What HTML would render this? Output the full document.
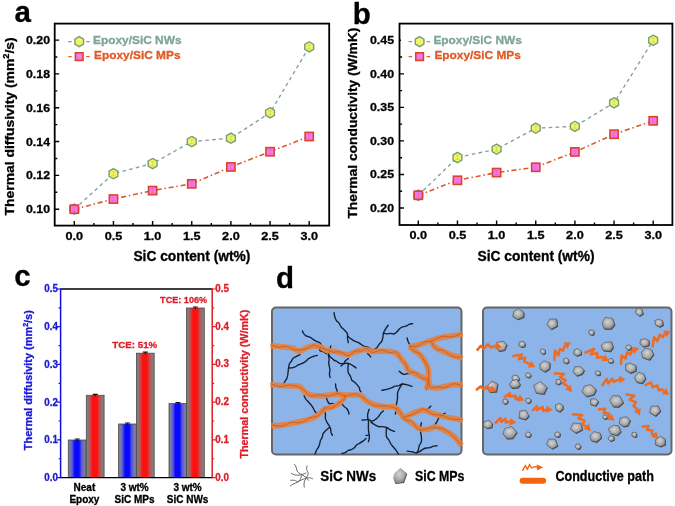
<!DOCTYPE html><html><head><meta charset="utf-8"><style>html,body{margin:0;padding:0;background:#fff;}svg{display:block;filter:blur(0.4px);}</style></head><body><svg width="675" height="506" viewBox="0 0 675 506">
<rect width="675" height="506" fill="#fff"/>
<text x="14.40" y="21.90" font-size="29.5" fill="#000" stroke="#000" stroke-width="0.3" text-anchor="start" font-family="Liberation Sans, sans-serif" font-weight="bold" >a</text>
<text x="352.80" y="23.90" font-size="29.5" fill="#000" stroke="#000" stroke-width="0.3" text-anchor="start" font-family="Liberation Sans, sans-serif" font-weight="bold" >b</text>
<text x="14.20" y="286.00" font-size="29.5" fill="#000" stroke="#000" stroke-width="0.3" text-anchor="start" font-family="Liberation Sans, sans-serif" font-weight="bold" >c</text>
<text x="276.00" y="288.20" font-size="29.5" fill="#000" stroke="#000" stroke-width="0.3" text-anchor="start" font-family="Liberation Sans, sans-serif" font-weight="bold" >d</text>
<polyline points="74.30,209.20 113.45,173.69 152.60,163.54 191.75,141.56 230.90,138.18 270.05,112.81 309.20,46.86" fill="none" stroke="#82A0A4" stroke-width="1.35" stroke-dasharray="3.6,3.3"/>
<polyline points="74.30,209.20 113.45,199.05 152.60,190.60 191.75,183.83 230.90,166.93 270.05,151.71 309.20,136.49" fill="none" stroke="#DC5A2C" stroke-width="1.6" stroke-dasharray="5,2.8,1.5,2.8"/>
<polygon points="74.30,204.10 78.72,206.65 78.72,211.75 74.30,214.30 69.88,211.75 69.88,206.65" fill="#F3F46A" stroke="#74A070" stroke-width="1.4"/>
<path d="M72.50,207.20h3.6 M72.50,211.20h3.6 M74.30,207.20v4" stroke="#b0bc58" stroke-width="0.6" opacity="0.7"/>
<polygon points="113.45,168.59 117.87,171.14 117.87,176.24 113.45,178.79 109.03,176.24 109.03,171.14" fill="#F3F46A" stroke="#74A070" stroke-width="1.4"/>
<path d="M111.65,171.69h3.6 M111.65,175.69h3.6 M113.45,171.69v4" stroke="#b0bc58" stroke-width="0.6" opacity="0.7"/>
<polygon points="152.60,158.44 157.02,160.99 157.02,166.09 152.60,168.64 148.18,166.09 148.18,160.99" fill="#F3F46A" stroke="#74A070" stroke-width="1.4"/>
<path d="M150.80,161.54h3.6 M150.80,165.54h3.6 M152.60,161.54v4" stroke="#b0bc58" stroke-width="0.6" opacity="0.7"/>
<polygon points="191.75,136.46 196.17,139.01 196.17,144.11 191.75,146.66 187.33,144.11 187.33,139.01" fill="#F3F46A" stroke="#74A070" stroke-width="1.4"/>
<path d="M189.95,139.56h3.6 M189.95,143.56h3.6 M191.75,139.56v4" stroke="#b0bc58" stroke-width="0.6" opacity="0.7"/>
<polygon points="230.90,133.08 235.32,135.63 235.32,140.73 230.90,143.28 226.48,140.73 226.48,135.63" fill="#F3F46A" stroke="#74A070" stroke-width="1.4"/>
<path d="M229.10,136.18h3.6 M229.10,140.18h3.6 M230.90,136.18v4" stroke="#b0bc58" stroke-width="0.6" opacity="0.7"/>
<polygon points="270.05,107.71 274.47,110.26 274.47,115.36 270.05,117.91 265.63,115.36 265.63,110.26" fill="#F3F46A" stroke="#74A070" stroke-width="1.4"/>
<path d="M268.25,110.81h3.6 M268.25,114.81h3.6 M270.05,110.81v4" stroke="#b0bc58" stroke-width="0.6" opacity="0.7"/>
<polygon points="309.20,41.76 313.62,44.31 313.62,49.41 309.20,51.96 304.78,49.41 304.78,44.31" fill="#F3F46A" stroke="#74A070" stroke-width="1.4"/>
<path d="M307.40,44.86h3.6 M307.40,48.86h3.6 M309.20,44.86v4" stroke="#b0bc58" stroke-width="0.6" opacity="0.7"/>
<rect x="70.20" y="205.10" width="8.2" height="8.2" fill="#F678EE" stroke="#D9432E" stroke-width="1.6"/>
<path d="M72.50,207.20h3.6 M72.50,211.20h3.6 M74.30,207.20v4" stroke="#d84890" stroke-width="0.6" opacity="0.55"/>
<rect x="109.35" y="194.95" width="8.2" height="8.2" fill="#F678EE" stroke="#D9432E" stroke-width="1.6"/>
<path d="M111.65,197.05h3.6 M111.65,201.05h3.6 M113.45,197.05v4" stroke="#d84890" stroke-width="0.6" opacity="0.55"/>
<rect x="148.50" y="186.50" width="8.2" height="8.2" fill="#F678EE" stroke="#D9432E" stroke-width="1.6"/>
<path d="M150.80,188.60h3.6 M150.80,192.60h3.6 M152.60,188.60v4" stroke="#d84890" stroke-width="0.6" opacity="0.55"/>
<rect x="187.65" y="179.73" width="8.2" height="8.2" fill="#F678EE" stroke="#D9432E" stroke-width="1.6"/>
<path d="M189.95,181.83h3.6 M189.95,185.83h3.6 M191.75,181.83v4" stroke="#d84890" stroke-width="0.6" opacity="0.55"/>
<rect x="226.80" y="162.83" width="8.2" height="8.2" fill="#F678EE" stroke="#D9432E" stroke-width="1.6"/>
<path d="M229.10,164.93h3.6 M229.10,168.93h3.6 M230.90,164.93v4" stroke="#d84890" stroke-width="0.6" opacity="0.55"/>
<rect x="265.95" y="147.61" width="8.2" height="8.2" fill="#F678EE" stroke="#D9432E" stroke-width="1.6"/>
<path d="M268.25,149.71h3.6 M268.25,153.71h3.6 M270.05,149.71v4" stroke="#d84890" stroke-width="0.6" opacity="0.55"/>
<rect x="305.10" y="132.39" width="8.2" height="8.2" fill="#F678EE" stroke="#D9432E" stroke-width="1.6"/>
<path d="M307.40,134.49h3.6 M307.40,138.49h3.6 M309.20,134.49v4" stroke="#d84890" stroke-width="0.6" opacity="0.55"/>
<rect x="54.7" y="23.6" width="274.5" height="202.0" fill="none" stroke="#000" stroke-width="1.8"/>
<path d="M54.7,209.20h4.5 M54.7,175.38h4.5 M54.7,141.56h4.5 M54.7,107.74h4.5 M54.7,73.92h4.5 M54.7,40.10h4.5 M54.7,192.29h2.6 M54.7,158.47h2.6 M54.7,124.65h2.6 M54.7,90.83h2.6 M54.7,57.01h2.6 M74.30,225.6v-4.5 M113.45,225.6v-4.5 M152.60,225.6v-4.5 M191.75,225.6v-4.5 M230.90,225.6v-4.5 M270.05,225.6v-4.5 M309.20,225.6v-4.5 M93.88,225.6v-2.6 M133.02,225.6v-2.6 M172.18,225.6v-2.6 M211.32,225.6v-2.6 M250.47,225.6v-2.6 M289.62,225.6v-2.6" stroke="#000" stroke-width="1.4" fill="none"/>
<text x="50.00" y="213.20" font-size="11.5" fill="#000" stroke="#000" stroke-width="0.3" text-anchor="end" font-family="Liberation Sans, sans-serif" font-weight="bold" textLength="24" lengthAdjust="spacingAndGlyphs" >0.10</text>
<text x="50.00" y="179.38" font-size="11.5" fill="#000" stroke="#000" stroke-width="0.3" text-anchor="end" font-family="Liberation Sans, sans-serif" font-weight="bold" textLength="24" lengthAdjust="spacingAndGlyphs" >0.12</text>
<text x="50.00" y="145.56" font-size="11.5" fill="#000" stroke="#000" stroke-width="0.3" text-anchor="end" font-family="Liberation Sans, sans-serif" font-weight="bold" textLength="24" lengthAdjust="spacingAndGlyphs" >0.14</text>
<text x="50.00" y="111.74" font-size="11.5" fill="#000" stroke="#000" stroke-width="0.3" text-anchor="end" font-family="Liberation Sans, sans-serif" font-weight="bold" textLength="24" lengthAdjust="spacingAndGlyphs" >0.16</text>
<text x="50.00" y="77.92" font-size="11.5" fill="#000" stroke="#000" stroke-width="0.3" text-anchor="end" font-family="Liberation Sans, sans-serif" font-weight="bold" textLength="24" lengthAdjust="spacingAndGlyphs" >0.18</text>
<text x="50.00" y="44.10" font-size="11.5" fill="#000" stroke="#000" stroke-width="0.3" text-anchor="end" font-family="Liberation Sans, sans-serif" font-weight="bold" textLength="24" lengthAdjust="spacingAndGlyphs" >0.20</text>
<text x="74.30" y="240.30" font-size="11.5" fill="#000" stroke="#000" stroke-width="0.3" text-anchor="middle" font-family="Liberation Sans, sans-serif" font-weight="bold" textLength="17.6" lengthAdjust="spacingAndGlyphs" >0.0</text>
<text x="113.45" y="240.30" font-size="11.5" fill="#000" stroke="#000" stroke-width="0.3" text-anchor="middle" font-family="Liberation Sans, sans-serif" font-weight="bold" textLength="17.6" lengthAdjust="spacingAndGlyphs" >0.5</text>
<text x="152.60" y="240.30" font-size="11.5" fill="#000" stroke="#000" stroke-width="0.3" text-anchor="middle" font-family="Liberation Sans, sans-serif" font-weight="bold" textLength="17.6" lengthAdjust="spacingAndGlyphs" >1.0</text>
<text x="191.75" y="240.30" font-size="11.5" fill="#000" stroke="#000" stroke-width="0.3" text-anchor="middle" font-family="Liberation Sans, sans-serif" font-weight="bold" textLength="17.6" lengthAdjust="spacingAndGlyphs" >1.5</text>
<text x="230.90" y="240.30" font-size="11.5" fill="#000" stroke="#000" stroke-width="0.3" text-anchor="middle" font-family="Liberation Sans, sans-serif" font-weight="bold" textLength="17.6" lengthAdjust="spacingAndGlyphs" >2.0</text>
<text x="270.05" y="240.30" font-size="11.5" fill="#000" stroke="#000" stroke-width="0.3" text-anchor="middle" font-family="Liberation Sans, sans-serif" font-weight="bold" textLength="17.6" lengthAdjust="spacingAndGlyphs" >2.5</text>
<text x="309.20" y="240.30" font-size="11.5" fill="#000" stroke="#000" stroke-width="0.3" text-anchor="middle" font-family="Liberation Sans, sans-serif" font-weight="bold" textLength="17.6" lengthAdjust="spacingAndGlyphs" >3.0</text>
<text x="191.90" y="261.30" font-size="13.8" fill="#000" stroke="#000" stroke-width="0.3" text-anchor="middle" font-family="Liberation Sans, sans-serif" font-weight="bold" textLength="117" lengthAdjust="spacingAndGlyphs" >SiC content (wt%)</text>
<text transform="translate(14.0,126.4) rotate(-90)" x="0" y="0" font-size="13.5" fill="#000" stroke="#000" stroke-width="0.3" text-anchor="middle" font-family="Liberation Sans, sans-serif" font-weight="bold" textLength="178" lengthAdjust="spacingAndGlyphs">Thermal diffusivity (mm<tspan font-size="9" dy="-5">2</tspan><tspan dy="5">/s)</tspan></text>
<path d="M68.2,41.6h3.5 M86.2,41.6h3.5" stroke="#7E9A9E" stroke-width="1.3"/>
<polygon points="79.20,36.60 83.53,39.10 83.53,44.10 79.20,46.60 74.87,44.10 74.87,39.10" fill="#F3F46A" stroke="#74A070" stroke-width="1.4"/>
<path d="M68.2,56.6h3.5 M86.2,56.6h3.5" stroke="#E2602C" stroke-width="1.3"/>
<rect x="75.40" y="52.80" width="7.6" height="7.6" fill="#F678EE" stroke="#D9432E" stroke-width="1.6"/>
<text x="93.00" y="44.20" font-size="11" fill="#7FA596" stroke="#7FA596" stroke-width="0.3" text-anchor="start" font-family="Liberation Sans, sans-serif" font-weight="bold" textLength="88.5" lengthAdjust="spacingAndGlyphs" >Epoxy/SiC NWs</text>
<text x="94.00" y="59.20" font-size="11" fill="#E05A28" stroke="#E05A28" stroke-width="0.3" text-anchor="start" font-family="Liberation Sans, sans-serif" font-weight="bold" textLength="86.5" lengthAdjust="spacingAndGlyphs" >Epoxy/SiC MPs</text>
<polyline points="418.30,195.25 457.45,157.49 496.60,149.17 535.75,128.17 574.90,126.36 614.05,102.82 653.20,40.30" fill="none" stroke="#82A0A4" stroke-width="1.35" stroke-dasharray="3.6,3.3"/>
<polyline points="418.30,195.25 457.45,180.30 496.60,172.58 535.75,167.28 574.90,151.92 614.05,134.21 653.20,120.80" fill="none" stroke="#DC5A2C" stroke-width="1.6" stroke-dasharray="5,2.8,1.5,2.8"/>
<polygon points="418.30,190.15 422.72,192.70 422.72,197.80 418.30,200.35 413.88,197.80 413.88,192.70" fill="#F3F46A" stroke="#74A070" stroke-width="1.4"/>
<path d="M416.50,193.25h3.6 M416.50,197.25h3.6 M418.30,193.25v4" stroke="#b0bc58" stroke-width="0.6" opacity="0.7"/>
<polygon points="457.45,152.39 461.87,154.94 461.87,160.04 457.45,162.59 453.03,160.04 453.03,154.94" fill="#F3F46A" stroke="#74A070" stroke-width="1.4"/>
<path d="M455.65,155.49h3.6 M455.65,159.49h3.6 M457.45,155.49v4" stroke="#b0bc58" stroke-width="0.6" opacity="0.7"/>
<polygon points="496.60,144.07 501.02,146.62 501.02,151.72 496.60,154.27 492.18,151.72 492.18,146.62" fill="#F3F46A" stroke="#74A070" stroke-width="1.4"/>
<path d="M494.80,147.17h3.6 M494.80,151.17h3.6 M496.60,147.17v4" stroke="#b0bc58" stroke-width="0.6" opacity="0.7"/>
<polygon points="535.75,123.07 540.17,125.62 540.17,130.72 535.75,133.27 531.33,130.72 531.33,125.62" fill="#F3F46A" stroke="#74A070" stroke-width="1.4"/>
<path d="M533.95,126.17h3.6 M533.95,130.17h3.6 M535.75,126.17v4" stroke="#b0bc58" stroke-width="0.6" opacity="0.7"/>
<polygon points="574.90,121.26 579.32,123.81 579.32,128.91 574.90,131.46 570.48,128.91 570.48,123.81" fill="#F3F46A" stroke="#74A070" stroke-width="1.4"/>
<path d="M573.10,124.36h3.6 M573.10,128.36h3.6 M574.90,124.36v4" stroke="#b0bc58" stroke-width="0.6" opacity="0.7"/>
<polygon points="614.05,97.72 618.47,100.27 618.47,105.37 614.05,107.92 609.63,105.37 609.63,100.27" fill="#F3F46A" stroke="#74A070" stroke-width="1.4"/>
<path d="M612.25,100.82h3.6 M612.25,104.82h3.6 M614.05,100.82v4" stroke="#b0bc58" stroke-width="0.6" opacity="0.7"/>
<polygon points="653.20,35.20 657.62,37.75 657.62,42.85 653.20,45.40 648.78,42.85 648.78,37.75" fill="#F3F46A" stroke="#74A070" stroke-width="1.4"/>
<path d="M651.40,38.30h3.6 M651.40,42.30h3.6 M653.20,38.30v4" stroke="#b0bc58" stroke-width="0.6" opacity="0.7"/>
<rect x="414.20" y="191.15" width="8.2" height="8.2" fill="#F678EE" stroke="#D9432E" stroke-width="1.6"/>
<path d="M416.50,193.25h3.6 M416.50,197.25h3.6 M418.30,193.25v4" stroke="#d84890" stroke-width="0.6" opacity="0.55"/>
<rect x="453.35" y="176.20" width="8.2" height="8.2" fill="#F678EE" stroke="#D9432E" stroke-width="1.6"/>
<path d="M455.65,178.30h3.6 M455.65,182.30h3.6 M457.45,178.30v4" stroke="#d84890" stroke-width="0.6" opacity="0.55"/>
<rect x="492.50" y="168.48" width="8.2" height="8.2" fill="#F678EE" stroke="#D9432E" stroke-width="1.6"/>
<path d="M494.80,170.58h3.6 M494.80,174.58h3.6 M496.60,170.58v4" stroke="#d84890" stroke-width="0.6" opacity="0.55"/>
<rect x="531.65" y="163.18" width="8.2" height="8.2" fill="#F678EE" stroke="#D9432E" stroke-width="1.6"/>
<path d="M533.95,165.28h3.6 M533.95,169.28h3.6 M535.75,165.28v4" stroke="#d84890" stroke-width="0.6" opacity="0.55"/>
<rect x="570.80" y="147.82" width="8.2" height="8.2" fill="#F678EE" stroke="#D9432E" stroke-width="1.6"/>
<path d="M573.10,149.92h3.6 M573.10,153.92h3.6 M574.90,149.92v4" stroke="#d84890" stroke-width="0.6" opacity="0.55"/>
<rect x="609.95" y="130.11" width="8.2" height="8.2" fill="#F678EE" stroke="#D9432E" stroke-width="1.6"/>
<path d="M612.25,132.21h3.6 M612.25,136.21h3.6 M614.05,132.21v4" stroke="#d84890" stroke-width="0.6" opacity="0.55"/>
<rect x="649.10" y="116.70" width="8.2" height="8.2" fill="#F678EE" stroke="#D9432E" stroke-width="1.6"/>
<path d="M651.40,118.80h3.6 M651.40,122.80h3.6 M653.20,118.80v4" stroke="#d84890" stroke-width="0.6" opacity="0.55"/>
<rect x="399.5" y="23.6" width="272.9" height="201.4" fill="none" stroke="#000" stroke-width="1.8"/>
<path d="M399.5,208.00h4.5 M399.5,174.46h4.5 M399.5,140.92h4.5 M399.5,107.38h4.5 M399.5,73.84h4.5 M399.5,40.30h1.5 M399.5,191.23h2.6 M399.5,157.69h2.6 M399.5,124.15h2.6 M399.5,90.61h2.6 M399.5,57.07h2.6 M418.30,225.0v-4.5 M457.45,225.0v-4.5 M496.60,225.0v-4.5 M535.75,225.0v-4.5 M574.90,225.0v-4.5 M614.05,225.0v-4.5 M653.20,225.0v-4.5 M437.88,225.0v-2.6 M477.02,225.0v-2.6 M516.17,225.0v-2.6 M555.33,225.0v-2.6 M594.48,225.0v-2.6 M633.62,225.0v-2.6" stroke="#000" stroke-width="1.4" fill="none"/>
<text x="394.00" y="212.00" font-size="11.5" fill="#000" stroke="#000" stroke-width="0.3" text-anchor="end" font-family="Liberation Sans, sans-serif" font-weight="bold" textLength="24" lengthAdjust="spacingAndGlyphs" >0.20</text>
<text x="394.00" y="178.46" font-size="11.5" fill="#000" stroke="#000" stroke-width="0.3" text-anchor="end" font-family="Liberation Sans, sans-serif" font-weight="bold" textLength="24" lengthAdjust="spacingAndGlyphs" >0.25</text>
<text x="394.00" y="144.92" font-size="11.5" fill="#000" stroke="#000" stroke-width="0.3" text-anchor="end" font-family="Liberation Sans, sans-serif" font-weight="bold" textLength="24" lengthAdjust="spacingAndGlyphs" >0.30</text>
<text x="394.00" y="111.38" font-size="11.5" fill="#000" stroke="#000" stroke-width="0.3" text-anchor="end" font-family="Liberation Sans, sans-serif" font-weight="bold" textLength="24" lengthAdjust="spacingAndGlyphs" >0.35</text>
<text x="394.00" y="77.84" font-size="11.5" fill="#000" stroke="#000" stroke-width="0.3" text-anchor="end" font-family="Liberation Sans, sans-serif" font-weight="bold" textLength="24" lengthAdjust="spacingAndGlyphs" >0.40</text>
<text x="394.00" y="44.30" font-size="11.5" fill="#000" stroke="#000" stroke-width="0.3" text-anchor="end" font-family="Liberation Sans, sans-serif" font-weight="bold" textLength="24" lengthAdjust="spacingAndGlyphs" >0.45</text>
<text x="418.30" y="239.20" font-size="11.5" fill="#000" stroke="#000" stroke-width="0.3" text-anchor="middle" font-family="Liberation Sans, sans-serif" font-weight="bold" textLength="17.6" lengthAdjust="spacingAndGlyphs" >0.0</text>
<text x="457.45" y="239.20" font-size="11.5" fill="#000" stroke="#000" stroke-width="0.3" text-anchor="middle" font-family="Liberation Sans, sans-serif" font-weight="bold" textLength="17.6" lengthAdjust="spacingAndGlyphs" >0.5</text>
<text x="496.60" y="239.20" font-size="11.5" fill="#000" stroke="#000" stroke-width="0.3" text-anchor="middle" font-family="Liberation Sans, sans-serif" font-weight="bold" textLength="17.6" lengthAdjust="spacingAndGlyphs" >1.0</text>
<text x="535.75" y="239.20" font-size="11.5" fill="#000" stroke="#000" stroke-width="0.3" text-anchor="middle" font-family="Liberation Sans, sans-serif" font-weight="bold" textLength="17.6" lengthAdjust="spacingAndGlyphs" >1.5</text>
<text x="574.90" y="239.20" font-size="11.5" fill="#000" stroke="#000" stroke-width="0.3" text-anchor="middle" font-family="Liberation Sans, sans-serif" font-weight="bold" textLength="17.6" lengthAdjust="spacingAndGlyphs" >2.0</text>
<text x="614.05" y="239.20" font-size="11.5" fill="#000" stroke="#000" stroke-width="0.3" text-anchor="middle" font-family="Liberation Sans, sans-serif" font-weight="bold" textLength="17.6" lengthAdjust="spacingAndGlyphs" >2.5</text>
<text x="653.20" y="239.20" font-size="11.5" fill="#000" stroke="#000" stroke-width="0.3" text-anchor="middle" font-family="Liberation Sans, sans-serif" font-weight="bold" textLength="17.6" lengthAdjust="spacingAndGlyphs" >3.0</text>
<text x="536.00" y="260.70" font-size="13.8" fill="#000" stroke="#000" stroke-width="0.3" text-anchor="middle" font-family="Liberation Sans, sans-serif" font-weight="bold" textLength="117" lengthAdjust="spacingAndGlyphs" >SiC content (wt%)</text>
<text transform="translate(356.6,123.1) rotate(-90)" x="0" y="0" font-size="13.5" fill="#000" stroke="#000" stroke-width="0.3" text-anchor="middle" font-family="Liberation Sans, sans-serif" font-weight="bold" textLength="191" lengthAdjust="spacingAndGlyphs">Thermal conductivity (W/mK)</text>
<path d="M408.6,41.6h3.5 M426.6,41.6h3.5" stroke="#7E9A9E" stroke-width="1.3"/>
<polygon points="419.60,36.60 423.93,39.10 423.93,44.10 419.60,46.60 415.27,44.10 415.27,39.10" fill="#F3F46A" stroke="#74A070" stroke-width="1.4"/>
<path d="M408.6,56.6h3.5 M426.6,56.6h3.5" stroke="#E2602C" stroke-width="1.3"/>
<rect x="415.80" y="52.80" width="7.6" height="7.6" fill="#F678EE" stroke="#D9432E" stroke-width="1.6"/>
<text x="433.40" y="44.20" font-size="11" fill="#7FA596" stroke="#7FA596" stroke-width="0.3" text-anchor="start" font-family="Liberation Sans, sans-serif" font-weight="bold" textLength="88.5" lengthAdjust="spacingAndGlyphs" >Epoxy/SiC NWs</text>
<text x="434.40" y="59.20" font-size="11" fill="#E05A28" stroke="#E05A28" stroke-width="0.3" text-anchor="start" font-family="Liberation Sans, sans-serif" font-weight="bold" textLength="86.5" lengthAdjust="spacingAndGlyphs" >Epoxy/SiC MPs</text>
<defs><linearGradient id="gb" x1="0" x2="1" y1="0" y2="0"><stop offset="0" stop-color="#7a7a86"/><stop offset="0.1" stop-color="#7a7aa6"/><stop offset="0.22" stop-color="#5656e0"/><stop offset="0.36" stop-color="#0808ff"/><stop offset="0.6" stop-color="#0808ff"/><stop offset="0.74" stop-color="#5656e0"/><stop offset="0.88" stop-color="#7a7aa6"/><stop offset="1" stop-color="#7a7a86"/></linearGradient><linearGradient id="gr" x1="0" x2="1" y1="0" y2="0"><stop offset="0" stop-color="#868080"/><stop offset="0.1" stop-color="#8c7676"/><stop offset="0.22" stop-color="#c05050"/><stop offset="0.35" stop-color="#ff1010"/><stop offset="0.6" stop-color="#ff1010"/><stop offset="0.74" stop-color="#c05050"/><stop offset="0.88" stop-color="#8c7676"/><stop offset="1" stop-color="#868080"/></linearGradient></defs>
<rect x="68.3" y="440.0" width="17.8" height="37.60000000000002" fill="url(#gb)" stroke="#4a4a4a" stroke-width="0.8"/>
<rect x="86.3" y="395.3" width="17.8" height="82.30000000000001" fill="url(#gr)" stroke="#4a4a4a" stroke-width="0.8"/>
<path d="M74.70,439.00h5 M77.20,439.00v2" stroke="#111" stroke-width="1.2"/>
<path d="M92.70,394.30h5 M95.20,394.30v2" stroke="#111" stroke-width="1.2"/>
<rect x="118.6" y="424.0" width="17.8" height="53.60000000000002" fill="url(#gb)" stroke="#4a4a4a" stroke-width="0.8"/>
<rect x="136.4" y="353.2" width="17.8" height="124.40000000000003" fill="url(#gr)" stroke="#4a4a4a" stroke-width="0.8"/>
<path d="M125.00,423.00h5 M127.50,423.00v2" stroke="#111" stroke-width="1.2"/>
<path d="M142.80,352.20h5 M145.30,352.20v2" stroke="#111" stroke-width="1.2"/>
<rect x="169.0" y="403.6" width="17.8" height="74.0" fill="url(#gb)" stroke="#4a4a4a" stroke-width="0.8"/>
<rect x="186.5" y="308.0" width="17.8" height="169.60000000000002" fill="url(#gr)" stroke="#4a4a4a" stroke-width="0.8"/>
<path d="M175.40,402.60h5 M177.90,402.60v2" stroke="#111" stroke-width="1.2"/>
<path d="M192.90,307.00h5 M195.40,307.00v2" stroke="#111" stroke-width="1.2"/>
<path d="M60.6,289.0H212.2 M60.0,477.6H212.79999999999998" stroke="#000" stroke-width="1.4"/>
<path d="M60.6,288.3V477.6" stroke="#1010E0" stroke-width="1.5"/>
<path d="M212.2,288.3V477.6" stroke="#DE1E28" stroke-width="1.5"/>
<path d="M60.6,477.60h-3.5 M60.6,439.88h-3.5 M60.6,402.16h-3.5 M60.6,364.44h-3.5 M60.6,326.72h-3.5 M60.6,289.00h-3.5 M60.6,458.74h-2 M60.6,421.02h-2 M60.6,383.30h-2 M60.6,345.58h-2 M60.6,307.86h-2" stroke="#1010E0" stroke-width="1.2"/>
<path d="M212.2,477.60h3.5 M212.2,439.88h3.5 M212.2,402.16h3.5 M212.2,364.44h3.5 M212.2,326.72h3.5 M212.2,289.00h3.5 M212.2,458.74h2 M212.2,421.02h2 M212.2,383.30h2 M212.2,345.58h2 M212.2,307.86h2" stroke="#DE1E28" stroke-width="1.2"/>
<text x="57.90" y="481.00" font-size="10" fill="#1c1cd4" stroke="#1c1cd4" stroke-width="0.3" text-anchor="end" font-family="Liberation Sans, sans-serif" font-weight="bold" textLength="13.6" lengthAdjust="spacingAndGlyphs" >0.0</text>
<text x="215.30" y="480.60" font-size="10" fill="#de1e28" stroke="#de1e28" stroke-width="0.3" text-anchor="start" font-family="Liberation Sans, sans-serif" font-weight="bold" textLength="13.6" lengthAdjust="spacingAndGlyphs" >0.0</text>
<text x="57.90" y="443.28" font-size="10" fill="#1c1cd4" stroke="#1c1cd4" stroke-width="0.3" text-anchor="end" font-family="Liberation Sans, sans-serif" font-weight="bold" textLength="13.6" lengthAdjust="spacingAndGlyphs" >0.1</text>
<text x="215.30" y="442.88" font-size="10" fill="#de1e28" stroke="#de1e28" stroke-width="0.3" text-anchor="start" font-family="Liberation Sans, sans-serif" font-weight="bold" textLength="13.6" lengthAdjust="spacingAndGlyphs" >0.1</text>
<text x="57.90" y="405.56" font-size="10" fill="#1c1cd4" stroke="#1c1cd4" stroke-width="0.3" text-anchor="end" font-family="Liberation Sans, sans-serif" font-weight="bold" textLength="13.6" lengthAdjust="spacingAndGlyphs" >0.2</text>
<text x="215.30" y="405.16" font-size="10" fill="#de1e28" stroke="#de1e28" stroke-width="0.3" text-anchor="start" font-family="Liberation Sans, sans-serif" font-weight="bold" textLength="13.6" lengthAdjust="spacingAndGlyphs" >0.2</text>
<text x="57.90" y="367.84" font-size="10" fill="#1c1cd4" stroke="#1c1cd4" stroke-width="0.3" text-anchor="end" font-family="Liberation Sans, sans-serif" font-weight="bold" textLength="13.6" lengthAdjust="spacingAndGlyphs" >0.3</text>
<text x="215.30" y="367.44" font-size="10" fill="#de1e28" stroke="#de1e28" stroke-width="0.3" text-anchor="start" font-family="Liberation Sans, sans-serif" font-weight="bold" textLength="13.6" lengthAdjust="spacingAndGlyphs" >0.3</text>
<text x="57.90" y="330.12" font-size="10" fill="#1c1cd4" stroke="#1c1cd4" stroke-width="0.3" text-anchor="end" font-family="Liberation Sans, sans-serif" font-weight="bold" textLength="13.6" lengthAdjust="spacingAndGlyphs" >0.4</text>
<text x="215.30" y="329.72" font-size="10" fill="#de1e28" stroke="#de1e28" stroke-width="0.3" text-anchor="start" font-family="Liberation Sans, sans-serif" font-weight="bold" textLength="13.6" lengthAdjust="spacingAndGlyphs" >0.4</text>
<text x="57.90" y="292.40" font-size="10" fill="#1c1cd4" stroke="#1c1cd4" stroke-width="0.3" text-anchor="end" font-family="Liberation Sans, sans-serif" font-weight="bold" textLength="13.6" lengthAdjust="spacingAndGlyphs" >0.5</text>
<text x="215.30" y="292.00" font-size="10" fill="#de1e28" stroke="#de1e28" stroke-width="0.3" text-anchor="start" font-family="Liberation Sans, sans-serif" font-weight="bold" textLength="13.6" lengthAdjust="spacingAndGlyphs" >0.5</text>
<text transform="translate(31.5,380.2) rotate(-90)" font-size="11.7" fill="#1a1ad8" stroke="#1a1ad8" stroke-width="0.3" text-anchor="middle" font-family="Liberation Sans, sans-serif" font-weight="bold" textLength="140" lengthAdjust="spacingAndGlyphs">Thermal diffusivity (mm<tspan font-size="7.5" dy="-4">2</tspan><tspan dy="4">/s)</tspan></text>
<text transform="translate(247.9,384.1) rotate(-90)" font-size="11.5" fill="#de1e28" stroke="#de1e28" stroke-width="0.3" text-anchor="middle" font-family="Liberation Sans, sans-serif" font-weight="bold" textLength="149" lengthAdjust="spacingAndGlyphs">Thermal conductivity (W/mK)</text>
<text x="183.60" y="302.60" font-size="9.8" fill="#de1e28" stroke="#de1e28" stroke-width="0.3" text-anchor="middle" font-family="Liberation Sans, sans-serif" font-weight="bold" textLength="47" lengthAdjust="spacingAndGlyphs" >TCE: 106%</text>
<text x="134.80" y="347.50" font-size="9.8" fill="#de1e28" stroke="#de1e28" stroke-width="0.3" text-anchor="middle" font-family="Liberation Sans, sans-serif" font-weight="bold" textLength="45" lengthAdjust="spacingAndGlyphs" >TCE: 51%</text>
<text x="84.40" y="490.60" font-size="10" fill="#000" stroke="#000" stroke-width="0.3" text-anchor="middle" font-family="Liberation Sans, sans-serif" font-weight="bold" >Neat</text>
<text x="84.40" y="503.00" font-size="10" fill="#000" stroke="#000" stroke-width="0.3" text-anchor="middle" font-family="Liberation Sans, sans-serif" font-weight="bold" >Epoxy</text>
<text x="134.60" y="490.60" font-size="10" fill="#000" stroke="#000" stroke-width="0.3" text-anchor="middle" font-family="Liberation Sans, sans-serif" font-weight="bold" >3 wt%</text>
<text x="134.60" y="503.00" font-size="10" fill="#000" stroke="#000" stroke-width="0.3" text-anchor="middle" font-family="Liberation Sans, sans-serif" font-weight="bold" >SiC MPs</text>
<text x="187.60" y="490.60" font-size="10" fill="#000" stroke="#000" stroke-width="0.3" text-anchor="middle" font-family="Liberation Sans, sans-serif" font-weight="bold" >3 wt%</text>
<text x="187.60" y="503.00" font-size="10" fill="#000" stroke="#000" stroke-width="0.3" text-anchor="middle" font-family="Liberation Sans, sans-serif" font-weight="bold" >SiC NWs</text>
<defs><radialGradient id="pg" cx="0.45" cy="0.4" r="0.65"><stop offset="0" stop-color="#d4d4d6"/><stop offset="0.55" stop-color="#ababae"/><stop offset="1" stop-color="#767678"/></radialGradient><clipPath id="cl"><rect x="272" y="307.5" width="189.5" height="147" rx="4"/></clipPath><clipPath id="cr"><rect x="483" y="307.5" width="188.5" height="147" rx="4"/></clipPath></defs>
<rect x="272" y="307.5" width="189.5" height="147" rx="4" fill="#8CB4E8"/>
<rect x="483" y="307.5" width="188.5" height="147" rx="4" fill="#8CB4E8"/>
<rect x="272" y="307.5" width="189.5" height="147" rx="4" fill="none" stroke="#666666" stroke-width="2"/>
<rect x="483" y="307.5" width="188.5" height="147" rx="4" fill="none" stroke="#666666" stroke-width="2"/>
<g clip-path="url(#cl)">
<path d="M334.0,312.7 C334.1,313.4 334.4,315.5 334.8,316.8 C335.2,318.1 335.7,319.5 336.4,320.6 C337.1,321.7 338.3,322.2 339.1,323.2 C339.8,324.2 340.1,325.6 340.9,326.6 C341.6,327.6 342.7,328.5 343.5,329.3 C344.3,330.1 345.1,330.7 345.7,331.5 C346.4,332.2 347.2,332.8 347.5,334.0 C347.8,335.2 347.4,336.9 347.5,338.4 C347.7,339.8 348.2,342.0 348.3,342.7" fill="none" stroke="#131E33" stroke-width="1.35" stroke-linecap="round"/>
<path d="M347.5,336.0 C348.1,336.5 349.7,337.9 350.9,338.8 C352.1,339.6 353.4,340.5 354.6,341.1 C355.8,341.7 356.9,341.8 358.0,342.3 C359.1,342.8 360.1,343.7 361.0,344.3 C361.9,344.9 362.5,345.5 363.3,345.9 C364.2,346.3 365.1,346.4 366.0,346.7 C366.9,347.0 367.8,347.2 368.6,347.6 C369.5,348.0 370.6,348.8 371.0,349.0" fill="none" stroke="#131E33" stroke-width="1.35" stroke-linecap="round"/>
<path d="M302.4,330.9 C302.6,331.3 303.1,332.7 303.6,333.5 C304.1,334.3 304.6,335.0 305.6,335.6 C306.6,336.2 308.4,336.5 309.8,337.2 C311.1,337.8 312.4,338.9 313.5,339.6 C314.6,340.3 315.5,340.9 316.5,341.4 C317.6,341.9 319.1,342.2 319.8,342.7 C320.5,343.2 320.6,343.7 320.8,344.2 C321.1,344.7 321.5,345.2 321.4,345.9 C321.3,346.6 320.4,347.3 320.2,348.1 C319.9,348.9 319.2,350.0 319.8,350.6 C320.4,351.2 322.3,351.3 323.5,351.8 C324.7,352.4 326.3,353.5 326.9,353.8" fill="none" stroke="#131E33" stroke-width="1.35" stroke-linecap="round"/>
<path d="M330.9,345.9 C330.7,346.7 329.8,349.0 329.4,350.6 C329.0,352.2 328.5,354.0 328.5,355.4 C328.5,356.8 329.1,357.8 329.1,359.1 C329.2,360.3 328.7,361.6 328.7,362.8 C328.7,364.1 329.1,365.3 329.3,366.5 C329.5,367.7 329.9,368.9 330.0,370.1 C330.0,371.4 329.4,372.6 329.4,373.9 C329.5,375.1 330.0,376.9 330.1,377.5" fill="none" stroke="#131E33" stroke-width="1.35" stroke-linecap="round"/>
<path d="M328.5,354.6 C328.9,355.1 330.1,356.6 331.0,357.6 C332.0,358.5 333.0,359.4 334.0,360.1 C335.0,360.8 336.0,360.9 336.9,361.5 C337.9,362.0 338.4,362.9 339.6,363.3 C340.8,363.7 342.5,363.6 344.0,363.6 C345.4,363.6 346.9,363.0 348.3,363.3 C349.7,363.6 351.1,364.6 352.4,365.4 C353.7,366.2 355.6,367.6 356.2,368.0" fill="none" stroke="#131E33" stroke-width="1.35" stroke-linecap="round"/>
<path d="M348.3,364.1 C348.2,364.8 347.9,367.0 347.9,368.5 C347.9,369.9 347.9,371.6 348.3,372.8 C348.7,374.0 349.7,374.7 350.2,375.8 C350.7,376.8 351.1,378.3 351.4,379.1 C351.7,379.9 351.6,380.0 351.9,380.3 C352.1,380.6 352.2,380.4 353.0,381.0 C353.8,381.6 355.5,383.0 356.5,384.1 C357.6,385.3 358.9,386.9 359.4,387.9 C359.9,388.9 359.5,389.4 359.8,390.1 C360.1,390.7 360.8,391.6 361.0,391.9" fill="none" stroke="#131E33" stroke-width="1.35" stroke-linecap="round"/>
<path d="M317.4,355.4 C316.7,355.6 314.4,356.0 312.9,356.5 C311.5,357.1 309.9,357.7 308.7,358.5 C307.5,359.3 306.9,360.4 305.8,361.2 C304.8,362.0 303.7,362.7 302.4,363.3 C301.1,363.9 299.6,364.3 298.3,364.9 C297.0,365.6 295.6,366.7 294.5,367.2 C293.4,367.7 292.7,367.8 291.7,367.9 C290.8,368.0 289.4,368.0 288.9,368.0" fill="none" stroke="#131E33" stroke-width="1.35" stroke-linecap="round"/>
<path d="M300.0,354.6 C299.4,354.9 297.5,355.6 296.3,356.3 C295.1,356.9 293.7,357.7 292.9,358.5 C292.1,359.3 292.1,360.3 291.5,361.1 C291.0,361.9 290.2,362.3 289.7,363.3 C289.2,364.3 288.8,365.9 288.6,367.2 C288.3,368.5 288.4,369.9 288.2,371.2 C288.0,372.5 287.9,373.9 287.7,375.2 C287.4,376.5 287.0,378.3 286.6,379.1 C286.2,379.9 285.8,379.7 285.5,380.2 C285.2,380.6 285.4,380.9 285.0,381.6 C284.6,382.3 283.6,383.6 282.8,384.6 C282.0,385.5 280.6,386.7 280.2,387.1" fill="none" stroke="#131E33" stroke-width="1.35" stroke-linecap="round"/>
<path d="M341.0,366.0 C341.4,365.6 342.9,364.6 343.6,363.7 C344.4,362.8 344.8,361.5 345.5,360.7 C346.3,359.8 347.8,358.9 348.3,358.5" fill="none" stroke="#131E33" stroke-width="1.35" stroke-linecap="round"/>
<path d="M388.2,325.3 C387.7,325.9 386.3,327.8 385.5,329.1 C384.7,330.4 383.8,331.8 383.4,333.2 C383.0,334.6 383.2,335.9 382.9,337.2 C382.7,338.5 382.4,339.9 381.8,341.1 C381.2,342.3 380.0,343.1 379.2,344.1 C378.4,345.2 377.8,346.7 377.1,347.5 C376.4,348.3 375.6,348.7 374.7,349.2 C373.9,349.6 372.5,349.9 372.0,350.0" fill="none" stroke="#131E33" stroke-width="1.35" stroke-linecap="round"/>
<path d="M383.4,333.2 C384.0,333.3 385.7,333.8 386.8,333.8 C388.0,333.9 389.1,333.4 390.3,333.4 C391.4,333.4 392.6,334.2 393.7,334.0 C394.8,333.8 395.9,332.8 396.8,331.9 C397.8,331.1 398.4,329.9 399.3,329.0 C400.2,328.2 401.3,327.4 402.4,326.9 C403.5,326.4 404.8,326.7 406.0,326.2 C407.1,325.8 408.0,324.8 409.1,324.3 C410.3,323.9 412.1,323.8 412.7,323.7" fill="none" stroke="#131E33" stroke-width="1.35" stroke-linecap="round"/>
<path d="M407.1,338.0 C407.2,338.5 407.6,340.2 408.0,341.3 C408.4,342.3 409.2,343.8 409.5,344.3" fill="none" stroke="#131E33" stroke-width="1.35" stroke-linecap="round"/>
<path d="M399.2,371.2 C399.6,371.5 400.6,372.6 401.4,373.1 C402.2,373.6 403.1,374.3 404.0,374.4 C404.9,374.5 406.0,373.7 407.1,373.6 C408.1,373.5 409.8,373.6 410.3,373.6" fill="none" stroke="#131E33" stroke-width="1.35" stroke-linecap="round"/>
<path d="M370.7,357.0 C370.5,356.7 369.9,355.7 369.4,355.2 C368.9,354.7 367.9,354.0 367.6,353.8" fill="none" stroke="#131E33" stroke-width="1.35" stroke-linecap="round"/>
<path d="M335.6,384.0 C335.6,384.6 335.6,386.3 335.9,387.4 C336.1,388.6 336.8,389.6 337.1,390.7 C337.3,391.9 337.2,393.6 337.2,394.2" fill="none" stroke="#131E33" stroke-width="1.35" stroke-linecap="round"/>
<path d="M304.0,395.8 C304.3,396.4 305.2,398.2 306.0,399.3 C306.8,400.3 307.8,401.2 308.7,402.2 C309.6,403.2 310.5,404.2 311.3,405.2 C312.1,406.3 312.9,407.5 313.5,408.5 C314.1,409.5 314.2,410.3 314.7,411.1 C315.2,411.9 316.3,412.8 316.6,413.2" fill="none" stroke="#131E33" stroke-width="1.35" stroke-linecap="round"/>
<path d="M326.1,397.4 C326.3,397.9 326.9,399.6 327.4,400.7 C327.9,401.7 328.6,403.3 329.3,403.7 C330.0,404.1 330.9,403.3 331.6,403.3 C332.4,403.3 333.6,403.6 334.0,403.7" fill="none" stroke="#131E33" stroke-width="1.35" stroke-linecap="round"/>
<path d="M324.5,406.9 C324.5,407.5 324.2,409.4 324.4,410.6 C324.6,411.9 325.3,413.0 325.5,414.3 C325.6,415.5 325.1,416.7 325.3,418.0 C325.5,419.3 326.2,420.8 326.9,422.2 C327.5,423.5 328.7,424.8 329.3,425.9 C329.9,427.0 330.4,427.9 330.7,429.0 C330.9,430.0 330.7,431.3 331.0,432.4 C331.3,433.4 332.3,434.9 332.5,435.4" fill="none" stroke="#131E33" stroke-width="1.35" stroke-linecap="round"/>
<path d="M329.3,427.5 C328.7,428.0 327.0,429.4 325.9,430.4 C324.9,431.5 323.6,432.7 323.0,433.8 C322.4,434.9 322.7,436.1 322.3,437.1 C321.9,438.1 321.0,439.0 320.6,440.0 C320.1,441.1 320.1,442.1 319.8,443.3 C319.5,444.5 319.1,445.9 318.5,447.1 C317.9,448.3 316.8,449.3 316.3,450.6 C315.7,451.8 315.2,453.8 315.0,454.4" fill="none" stroke="#131E33" stroke-width="1.35" stroke-linecap="round"/>
<path d="M342.0,403.7 C342.3,404.1 343.3,405.6 344.1,406.4 C344.8,407.2 346.0,407.7 346.7,408.5 C347.4,409.3 347.9,410.2 348.2,411.1 C348.6,412.0 348.9,413.5 349.0,414.0" fill="none" stroke="#131E33" stroke-width="1.35" stroke-linecap="round"/>
<path d="M342.0,453.5 C342.6,453.4 344.3,453.1 345.3,452.6 C346.3,452.1 347.1,451.0 348.1,450.5 C349.1,450.0 350.4,450.0 351.4,449.6 C352.4,449.2 353.5,448.6 354.3,447.8 C355.2,447.1 355.6,445.8 356.5,445.0 C357.3,444.3 358.3,443.9 359.4,443.3 C360.5,442.7 361.8,441.9 362.9,441.1 C364.0,440.3 365.5,438.9 366.0,438.5" fill="none" stroke="#131E33" stroke-width="1.35" stroke-linecap="round"/>
<path d="M381.8,390.3 C382.6,390.1 385.0,389.8 386.6,389.4 C388.2,389.0 389.9,388.4 391.3,387.9 C392.7,387.4 393.6,386.6 394.9,386.2 C396.1,385.8 397.6,386.0 398.8,385.7 C400.1,385.3 401.0,384.1 402.4,384.0 C403.8,383.9 405.7,384.4 407.2,384.8 C408.8,385.2 411.1,386.1 411.9,386.3" fill="none" stroke="#131E33" stroke-width="1.35" stroke-linecap="round"/>
<path d="M402.4,384.0 C401.9,384.7 400.4,386.7 399.6,388.1 C398.8,389.6 397.9,391.1 397.6,392.7 C397.3,394.3 397.6,395.9 397.5,397.5 C397.4,399.1 397.1,400.8 396.9,402.2 C396.7,403.6 396.2,404.8 396.1,406.1 C396.0,407.4 396.4,408.8 396.3,410.1 C396.2,411.4 395.5,413.4 395.3,414.0" fill="none" stroke="#131E33" stroke-width="1.35" stroke-linecap="round"/>
<path d="M383.4,410.9 C382.9,411.3 381.5,412.4 380.7,413.3 C379.9,414.3 379.5,415.4 378.7,416.4 C377.9,417.4 376.8,418.3 375.8,419.1 C374.7,419.9 373.4,421.0 372.3,421.1 C371.2,421.2 370.3,420.2 369.3,419.9 C368.2,419.7 366.9,419.6 366.0,419.6 C365.1,419.6 364.7,420.0 364.0,420.1 C363.4,420.1 362.3,420.0 362.0,420.0" fill="none" stroke="#131E33" stroke-width="1.35" stroke-linecap="round"/>
<path d="M369.2,409.3 C369.0,409.9 368.3,411.6 368.0,412.8 C367.7,413.9 367.5,415.0 367.6,416.4 C367.7,417.8 368.3,419.5 368.4,421.1 C368.6,422.7 368.4,424.3 368.4,425.9 C368.4,427.5 368.4,429.1 368.5,430.7 C368.7,432.3 369.1,434.1 369.2,435.4 C369.3,436.7 369.4,437.6 369.3,438.6 C369.1,439.7 368.5,441.2 368.4,441.7" fill="none" stroke="#131E33" stroke-width="1.35" stroke-linecap="round"/>
<path d="M370.7,421.9 C371.3,422.3 373.2,423.8 374.5,424.6 C375.9,425.4 377.3,426.4 378.7,426.7 C380.1,427.0 381.4,426.5 382.7,426.6 C384.0,426.8 385.3,427.0 386.6,427.5 C387.9,428.0 389.0,429.2 390.4,429.8 C391.7,430.5 393.8,431.1 394.5,431.4" fill="none" stroke="#131E33" stroke-width="1.35" stroke-linecap="round"/>
<path d="M386.6,427.5 C386.5,428.3 386.2,430.7 386.2,432.2 C386.2,433.8 386.1,435.7 386.6,437.0 C387.1,438.3 388.3,438.9 388.9,440.0 C389.6,441.1 389.9,442.4 390.6,443.5 C391.2,444.6 392.0,445.4 392.9,446.5 C393.8,447.6 395.1,448.9 396.0,450.2 C396.9,451.5 398.1,453.7 398.5,454.4" fill="none" stroke="#131E33" stroke-width="1.35" stroke-linecap="round"/>
<path d="M421.4,422.7 C421.3,423.5 420.7,425.8 420.6,427.4 C420.5,429.0 420.5,430.6 420.6,432.2 C420.7,433.8 421.3,435.3 421.4,436.9 C421.5,438.5 421.7,440.3 421.4,441.7 C421.1,443.1 419.9,444.0 419.4,445.2 C418.9,446.5 418.9,447.9 418.5,449.2 C418.0,450.5 417.7,452.4 416.6,452.8 C415.5,453.2 413.5,452.0 411.9,451.7 C410.3,451.5 407.9,451.3 407.1,451.2" fill="none" stroke="#131E33" stroke-width="1.35" stroke-linecap="round"/>
<path d="M416.6,452.8 C417.1,452.6 418.9,452.0 419.9,451.4 C420.9,450.9 421.8,449.9 422.8,449.4 C423.8,448.8 424.9,448.3 426.1,448.0 C427.3,447.7 428.7,447.9 429.9,447.6 C431.1,447.3 432.2,446.5 433.4,446.2 C434.7,445.9 436.6,445.8 437.2,445.7" fill="none" stroke="#131E33" stroke-width="1.35" stroke-linecap="round"/>
<path d="M426.1,410.0 C426.5,409.7 427.9,409.0 428.7,408.3 C429.5,407.7 430.5,406.5 430.9,406.1" fill="none" stroke="#131E33" stroke-width="1.35" stroke-linecap="round"/>
<path d="M434.0,425.9 C434.5,425.3 435.9,423.5 436.7,422.1 C437.5,420.8 438.0,419.1 438.8,418.0 C439.6,416.9 440.7,416.2 441.8,415.4 C442.8,414.6 444.5,413.6 445.1,413.2" fill="none" stroke="#131E33" stroke-width="1.35" stroke-linecap="round"/>
<path d="M366.0,435.4 C366.3,435.4 367.0,435.5 367.5,435.4 C368.0,435.4 368.8,435.1 369.0,435.0" fill="none" stroke="#131E33" stroke-width="1.35" stroke-linecap="round"/>
</g>
<path d="M270.5,345.9 C271.9,345.9 276.0,346.0 278.7,346.2 C281.4,346.4 284.2,346.8 286.6,347.2 C289.0,347.6 290.8,347.7 292.9,348.3 C295.0,348.9 296.8,351.1 299.2,351.0 C301.6,350.9 304.7,348.4 307.1,347.5 C309.5,346.6 311.4,346.0 313.5,345.9 C315.6,345.8 317.7,346.0 319.8,346.7 C321.9,347.4 324.0,349.6 326.1,350.3 C328.2,351.0 330.1,350.6 332.5,351.0 C334.9,351.4 337.8,352.4 340.4,353.0 C343.0,353.6 345.9,354.7 348.3,354.6 C350.7,354.5 352.2,353.0 354.6,352.2 C357.0,351.4 360.6,350.3 362.5,349.8 C364.4,349.3 364.4,349.1 366.0,349.4 C367.6,349.7 369.7,351.1 372.3,351.4 C374.9,351.7 378.9,351.0 381.8,351.0 C384.8,351.0 387.6,351.2 390.0,351.6 C392.4,352.0 394.3,351.9 396.3,353.2 C398.3,354.5 400.3,357.5 401.9,359.5 C403.5,361.5 404.6,363.2 405.8,365.1 C407.0,367.0 407.4,369.2 409.0,370.6 C410.6,372.1 413.2,372.8 415.3,373.8 C417.4,374.9 419.5,375.7 421.6,376.9 C423.7,378.1 426.6,379.3 428.0,380.9 C429.4,382.5 428.7,385.2 430.3,386.4 C431.9,387.6 434.9,388.0 437.4,388.0 C439.9,388.0 442.7,386.9 445.3,386.4 C447.9,385.9 450.3,385.1 453.2,384.8 C456.1,384.5 460.9,384.8 462.5,384.8" fill="none" stroke="#E5813E" stroke-width="5.6" stroke-linecap="butt" stroke-linejoin="round" opacity="0.93"/>
<path d="M409.0,346.9 C410.3,346.6 414.3,346.0 416.9,345.3 C419.5,344.6 422.2,343.8 424.8,342.9 C427.4,342.0 429.8,340.7 432.7,339.8 C435.6,338.9 439.0,338.1 442.2,337.4 C445.4,336.7 448.3,336.3 451.7,335.8 C455.1,335.3 460.7,334.5 462.5,334.2" fill="none" stroke="#E5813E" stroke-width="5.6" stroke-linecap="butt" stroke-linejoin="round" opacity="0.93"/>
<path d="M431.1,342.1 C431.9,343.0 433.7,346.1 435.8,347.7 C437.9,349.3 440.9,350.3 443.8,351.6 C446.7,352.9 450.1,354.6 453.2,355.6 C456.3,356.7 460.9,357.5 462.5,357.9" fill="none" stroke="#E5813E" stroke-width="5.6" stroke-linecap="butt" stroke-linejoin="round" opacity="0.93"/>
<path d="M409.0,346.9 C409.8,347.4 411.9,348.7 413.7,350.0 C415.5,351.3 418.1,352.9 420.0,354.8 C421.9,356.7 423.5,358.7 424.8,361.1 C426.1,363.5 427.4,366.4 428.0,369.0 C428.6,371.6 428.7,374.5 428.7,376.9 C428.7,379.3 428.4,381.1 428.0,383.2 C427.6,385.3 426.7,388.5 426.4,389.6" fill="none" stroke="#E5813E" stroke-width="5.6" stroke-linecap="butt" stroke-linejoin="round" opacity="0.93"/>
<path d="M270.5,384.7 C272.1,384.8 277.0,385.3 280.2,385.5 C283.4,385.7 286.5,385.9 289.7,386.0 C292.9,386.1 296.8,385.5 299.2,386.3 C301.6,387.1 302.1,389.6 304.0,391.0 C305.9,392.4 307.7,394.2 310.3,395.0 C312.9,395.8 316.6,395.8 319.8,395.8 C323.0,395.8 326.4,395.3 329.3,395.0 C332.2,394.7 334.6,394.2 337.2,394.2 C339.8,394.2 342.2,394.9 345.1,395.0 C348.0,395.1 352.0,394.9 354.6,395.0 C357.2,395.1 359.1,394.6 361.0,395.5 C362.9,396.4 363.9,399.1 366.0,400.6 C368.1,402.1 370.7,403.4 373.9,404.5 C377.1,405.6 381.6,406.5 385.0,406.9 C388.4,407.3 392.1,406.1 394.5,406.9 C396.9,407.7 397.6,409.8 399.2,411.6 C400.8,413.5 401.9,416.1 404.0,418.0 C406.1,419.9 409.3,420.9 411.9,422.7 C414.5,424.5 416.9,427.9 419.8,429.0 C422.7,430.1 426.7,429.4 429.3,429.0 C431.9,428.6 433.0,426.4 435.6,426.7 C438.2,427.0 441.9,428.9 445.1,430.6 C448.3,432.3 451.9,434.5 454.6,437.0 C457.3,439.5 460.4,444.1 461.5,445.5" fill="none" stroke="#E5813E" stroke-width="5.6" stroke-linecap="butt" stroke-linejoin="round" opacity="0.93"/>
<path d="M271.3,425.9 C273.1,425.8 278.5,425.5 281.8,425.1 C285.1,424.7 288.1,424.1 291.3,423.5 C294.5,422.9 297.6,422.3 300.8,421.5 C304.0,420.7 307.4,419.9 310.3,418.8 C313.2,417.7 315.8,416.4 318.2,414.8 C320.6,413.2 322.1,410.6 324.5,409.3 C326.9,408.0 330.1,407.8 332.5,406.9 C334.9,406.0 337.0,405.0 338.8,403.7 C340.6,402.4 342.4,400.3 343.5,399.0 C344.6,397.7 344.8,396.3 345.1,395.8" fill="none" stroke="#E5813E" stroke-width="5.6" stroke-linecap="butt" stroke-linejoin="round" opacity="0.93"/>
<path d="M404.0,418.0 C405.6,417.2 410.3,414.5 413.5,413.2 C416.7,411.9 419.8,410.0 423.0,410.0 C426.2,410.0 429.3,412.1 432.5,413.2 C435.7,414.3 438.9,415.6 442.0,416.4 C445.1,417.2 448.0,417.4 451.4,418.0 C454.8,418.6 460.6,419.9 462.5,420.3" fill="none" stroke="#E5813E" stroke-width="5.6" stroke-linecap="butt" stroke-linejoin="round" opacity="0.93"/>
<path d="M270.5,344.9 C271.9,345.3 276.0,347.0 278.7,347.2 C281.4,347.4 284.2,345.8 286.6,346.2 C289.0,346.6 290.8,348.7 292.9,349.3 C295.0,349.9 296.8,350.1 299.2,350.0 C301.6,349.9 304.7,349.4 307.1,348.5 C309.5,347.6 311.4,345.0 313.5,344.9 C315.6,344.8 317.7,347.0 319.8,347.7 C321.9,348.4 324.0,348.6 326.1,349.3 C328.2,350.0 330.1,351.6 332.5,352.0 C334.9,352.4 337.8,351.4 340.4,352.0 C343.0,352.6 345.9,355.7 348.3,355.6 C350.7,355.5 352.2,352.0 354.6,351.2 C357.0,350.4 360.6,351.3 362.5,350.8 C364.4,350.3 364.4,348.1 366.0,348.4 C367.6,348.7 369.7,352.1 372.3,352.4 C374.9,352.7 378.9,350.0 381.8,350.0 C384.8,350.0 387.6,352.2 390.0,352.6 C392.4,353.0 394.3,350.9 396.3,352.2 C398.3,353.5 400.3,358.5 401.9,360.5 C403.5,362.5 404.6,362.2 405.8,364.1 C407.0,366.0 407.4,370.2 409.0,371.6 C410.6,373.1 413.2,371.8 415.3,372.8 C417.4,373.9 419.5,376.7 421.6,377.9 C423.7,379.1 426.6,378.3 428.0,379.9 C429.4,381.5 428.7,386.2 430.3,387.4 C431.9,388.6 434.9,387.0 437.4,387.0 C439.9,387.0 442.7,387.9 445.3,387.4 C447.9,386.9 450.3,384.1 453.2,383.8 C456.1,383.5 460.9,385.5 462.5,385.8" fill="none" stroke="#B5571E" stroke-width="0.9" opacity="0.8"/>
<path d="M409.0,345.9 C410.3,346.0 414.3,347.0 416.9,346.3 C419.5,345.6 422.2,342.8 424.8,341.9 C427.4,341.0 429.8,341.7 432.7,340.8 C435.6,339.9 439.0,337.1 442.2,336.4 C445.4,335.7 448.3,337.3 451.7,336.8 C455.1,336.3 460.7,333.8 462.5,333.2" fill="none" stroke="#B5571E" stroke-width="0.9" opacity="0.8"/>
<path d="M431.1,341.1 C431.9,342.4 433.7,347.1 435.8,348.7 C437.9,350.3 440.9,349.3 443.8,350.6 C446.7,351.9 450.1,355.6 453.2,356.6 C456.3,357.7 460.9,356.8 462.5,356.9" fill="none" stroke="#B5571E" stroke-width="0.9" opacity="0.8"/>
<path d="M409.0,345.9 C409.8,346.8 411.9,349.7 413.7,351.0 C415.5,352.3 418.1,351.9 420.0,353.8 C421.9,355.7 423.5,359.7 424.8,362.1 C426.1,364.5 427.4,365.4 428.0,368.0 C428.6,370.6 428.7,375.5 428.7,377.9 C428.7,380.3 428.4,380.1 428.0,382.2 C427.6,384.3 426.7,389.2 426.4,390.6" fill="none" stroke="#B5571E" stroke-width="0.9" opacity="0.8"/>
<path d="M270.5,383.7 C272.1,384.2 277.0,386.3 280.2,386.5 C283.4,386.7 286.5,384.9 289.7,385.0 C292.9,385.1 296.8,386.5 299.2,387.3 C301.6,388.1 302.1,388.6 304.0,390.0 C305.9,391.4 307.7,395.2 310.3,396.0 C312.9,396.8 316.6,394.8 319.8,394.8 C323.0,394.8 326.4,396.3 329.3,396.0 C332.2,395.7 334.6,393.2 337.2,393.2 C339.8,393.2 342.2,395.9 345.1,396.0 C348.0,396.1 352.0,393.9 354.6,394.0 C357.2,394.1 359.1,395.6 361.0,396.5 C362.9,397.4 363.9,398.1 366.0,399.6 C368.1,401.1 370.7,404.4 373.9,405.5 C377.1,406.6 381.6,405.5 385.0,405.9 C388.4,406.3 392.1,407.1 394.5,407.9 C396.9,408.7 397.6,408.8 399.2,410.6 C400.8,412.5 401.9,417.1 404.0,419.0 C406.1,420.9 409.3,419.9 411.9,421.7 C414.5,423.5 416.9,428.9 419.8,430.0 C422.7,431.1 426.7,428.4 429.3,428.0 C431.9,427.6 433.0,427.4 435.6,427.7 C438.2,428.0 441.9,427.9 445.1,429.6 C448.3,431.3 451.9,435.5 454.6,438.0 C457.3,440.5 460.4,443.4 461.5,444.5" fill="none" stroke="#B5571E" stroke-width="0.9" opacity="0.8"/>
<path d="M271.3,424.9 C273.1,425.1 278.5,426.5 281.8,426.1 C285.1,425.7 288.1,423.1 291.3,422.5 C294.5,421.9 297.6,423.3 300.8,422.5 C304.0,421.7 307.4,418.9 310.3,417.8 C313.2,416.7 315.8,417.4 318.2,415.8 C320.6,414.2 322.1,409.6 324.5,408.3 C326.9,407.0 330.1,408.8 332.5,407.9 C334.9,407.0 337.0,404.0 338.8,402.7 C340.6,401.4 342.4,401.3 343.5,400.0 C344.6,398.7 344.8,395.7 345.1,394.8" fill="none" stroke="#B5571E" stroke-width="0.9" opacity="0.8"/>
<path d="M404.0,417.0 C405.6,416.5 410.3,415.5 413.5,414.2 C416.7,412.9 419.8,409.0 423.0,409.0 C426.2,409.0 429.3,413.1 432.5,414.2 C435.7,415.3 438.9,414.6 442.0,415.4 C445.1,416.2 448.0,418.4 451.4,419.0 C454.8,419.6 460.6,419.2 462.5,419.3" fill="none" stroke="#B5571E" stroke-width="0.9" opacity="0.8"/>
<g clip-path="url(#cr)">
<polygon points="524.5,317.8 518.6,320.3 513.4,317.2 514.4,312.0 519.2,309.5 524.4,312.9" fill="#3a3f4a"/>
<polygon points="523.8,317.0 517.9,319.5 512.7,316.4 513.7,311.2 518.5,308.7 523.7,312.1" fill="url(#pg)" stroke="#5a5a5a" stroke-width="0.7" stroke-linejoin="round"/>
<polygon points="558.1,326.8 551.7,330.2 547.6,325.2 550.4,319.8 557.3,319.9" fill="#3a3f4a"/>
<polygon points="557.4,326.0 551.0,329.4 546.9,324.4 549.7,319.0 556.6,319.1" fill="url(#pg)" stroke="#5a5a5a" stroke-width="0.7" stroke-linejoin="round"/>
<polygon points="505.2,351.1 499.6,352.0 496.6,347.5 497.6,343.2 504.2,341.9 507.6,345.6" fill="#3a3f4a"/>
<polygon points="504.5,350.3 498.9,351.2 495.9,346.7 496.9,342.4 503.5,341.1 506.9,344.8" fill="url(#pg)" stroke="#5a5a5a" stroke-width="0.7" stroke-linejoin="round"/>
<polygon points="525.2,347.5 521.7,348.1 519.3,346.0 520.2,342.9 524.0,342.2 526.1,344.5" fill="#3a3f4a"/>
<polygon points="524.5,346.7 521.0,347.3 518.6,345.2 519.5,342.1 523.3,341.4 525.4,343.7" fill="url(#pg)" stroke="#5a5a5a" stroke-width="0.7" stroke-linejoin="round"/>
<polygon points="546.2,353.6 543.7,355.2 540.8,352.6 542.2,349.6 545.6,350.3" fill="#3a3f4a"/>
<polygon points="545.5,352.8 543.0,354.4 540.1,351.8 541.5,348.8 544.9,349.5" fill="url(#pg)" stroke="#5a5a5a" stroke-width="0.7" stroke-linejoin="round"/>
<polygon points="550.2,369.8 545.6,372.7 540.8,370.1 540.3,365.2 544.7,361.6 550.9,363.9" fill="#3a3f4a"/>
<polygon points="549.5,369.0 544.9,371.9 540.1,369.3 539.6,364.4 544.0,360.8 550.2,363.1" fill="url(#pg)" stroke="#5a5a5a" stroke-width="0.7" stroke-linejoin="round"/>
<polygon points="569.6,362.7 567.6,364.4 564.5,363.6 564.2,360.1 566.8,358.7 569.0,360.0" fill="#3a3f4a"/>
<polygon points="568.9,361.9 566.9,363.6 563.8,362.8 563.5,359.3 566.1,357.9 568.3,359.2" fill="url(#pg)" stroke="#5a5a5a" stroke-width="0.7" stroke-linejoin="round"/>
<polygon points="531.9,376.3 529.9,378.5 527.1,378.0 526.0,375.5 527.4,373.7 530.5,374.0" fill="#3a3f4a"/>
<polygon points="531.2,375.5 529.2,377.7 526.4,377.2 525.3,374.7 526.7,372.9 529.8,373.2" fill="url(#pg)" stroke="#5a5a5a" stroke-width="0.7" stroke-linejoin="round"/>
<polygon points="520.2,379.9 518.3,382.4 514.4,382.7 512.4,378.6 514.5,375.8 518.3,376.5" fill="#3a3f4a"/>
<polygon points="519.5,379.1 517.6,381.6 513.7,381.9 511.7,377.8 513.8,375.0 517.6,375.7" fill="url(#pg)" stroke="#5a5a5a" stroke-width="0.7" stroke-linejoin="round"/>
<polygon points="643.9,314.5 640.0,317.0 636.0,313.5 637.5,309.0 642.1,309.3" fill="#3a3f4a"/>
<polygon points="643.2,313.7 639.3,316.2 635.3,312.7 636.8,308.2 641.4,308.5" fill="url(#pg)" stroke="#5a5a5a" stroke-width="0.7" stroke-linejoin="round"/>
<polygon points="615.4,325.2 611.7,329.8 604.8,329.7 602.7,323.8 605.8,318.2 613.1,319.2" fill="#3a3f4a"/>
<polygon points="614.7,324.4 611.0,329.0 604.1,328.9 602.0,323.0 605.1,317.4 612.4,318.4" fill="url(#pg)" stroke="#5a5a5a" stroke-width="0.7" stroke-linejoin="round"/>
<polygon points="663.8,325.9 660.2,327.7 656.4,326.0 655.3,321.6 659.0,319.9 663.2,321.4" fill="#3a3f4a"/>
<polygon points="663.1,325.1 659.5,326.9 655.7,325.2 654.6,320.8 658.3,319.1 662.5,320.6" fill="url(#pg)" stroke="#5a5a5a" stroke-width="0.7" stroke-linejoin="round"/>
<polygon points="594.3,335.5 591.9,336.1 589.3,333.9 590.2,330.9 593.2,330.9 594.9,332.4" fill="#3a3f4a"/>
<polygon points="593.6,334.7 591.2,335.3 588.6,333.1 589.5,330.1 592.5,330.1 594.2,331.6" fill="url(#pg)" stroke="#5a5a5a" stroke-width="0.7" stroke-linejoin="round"/>
<polygon points="614.0,347.9 611.1,352.3 604.0,351.4 601.7,346.2 605.4,343.2 612.0,342.6" fill="#3a3f4a"/>
<polygon points="613.3,347.1 610.4,351.5 603.3,350.6 601.0,345.4 604.7,342.4 611.3,341.8" fill="url(#pg)" stroke="#5a5a5a" stroke-width="0.7" stroke-linejoin="round"/>
<polygon points="631.2,350.5 628.6,350.9 626.3,348.5 627.6,345.9 630.6,345.8 632.2,347.9" fill="#3a3f4a"/>
<polygon points="630.5,349.7 627.9,350.1 625.6,347.7 626.9,345.1 629.9,345.0 631.5,347.1" fill="url(#pg)" stroke="#5a5a5a" stroke-width="0.7" stroke-linejoin="round"/>
<polygon points="649.5,346.3 643.9,347.8 640.6,344.2 641.2,340.6 646.1,339.4 649.9,341.6" fill="#3a3f4a"/>
<polygon points="648.8,345.5 643.2,347.0 639.9,343.4 640.5,339.8 645.4,338.6 649.2,340.8" fill="url(#pg)" stroke="#5a5a5a" stroke-width="0.7" stroke-linejoin="round"/>
<polygon points="654.4,355.1 650.2,360.8 643.4,358.6 642.0,353.1 646.4,348.9 652.0,350.2" fill="#3a3f4a"/>
<polygon points="653.7,354.3 649.5,360.0 642.7,357.8 641.3,352.3 645.7,348.1 651.3,349.4" fill="url(#pg)" stroke="#5a5a5a" stroke-width="0.7" stroke-linejoin="round"/>
<polygon points="581.9,355.2 577.5,356.8 574.3,354.7 575.1,350.6 578.2,349.4 582.1,351.9" fill="#3a3f4a"/>
<polygon points="581.2,354.4 576.8,356.0 573.6,353.9 574.4,349.8 577.5,348.6 581.4,351.1" fill="url(#pg)" stroke="#5a5a5a" stroke-width="0.7" stroke-linejoin="round"/>
<polygon points="614.2,362.1 612.6,363.8 609.7,363.6 608.7,361.4 610.2,359.5 612.8,359.2" fill="#3a3f4a"/>
<polygon points="613.5,361.3 611.9,363.0 609.0,362.8 608.0,360.6 609.5,358.7 612.1,358.4" fill="url(#pg)" stroke="#5a5a5a" stroke-width="0.7" stroke-linejoin="round"/>
<polygon points="636.5,371.8 631.1,373.9 626.2,371.0 626.3,365.1 630.6,363.7 637.0,366.7" fill="#3a3f4a"/>
<polygon points="635.8,371.0 630.4,373.1 625.5,370.2 625.6,364.3 629.9,362.9 636.3,365.9" fill="url(#pg)" stroke="#5a5a5a" stroke-width="0.7" stroke-linejoin="round"/>
<polygon points="582.7,374.9 577.3,376.7 573.5,372.4 575.8,367.4 581.2,367.5 585.0,370.9" fill="#3a3f4a"/>
<polygon points="582.0,374.1 576.6,375.9 572.8,371.6 575.1,366.6 580.5,366.7 584.3,370.1" fill="url(#pg)" stroke="#5a5a5a" stroke-width="0.7" stroke-linejoin="round"/>
<polygon points="600.5,375.9 597.7,376.2 595.8,374.6 596.9,371.9 600.1,371.8 601.2,373.9" fill="#3a3f4a"/>
<polygon points="599.8,375.1 597.0,375.4 595.1,373.8 596.2,371.1 599.4,371.0 600.5,373.1" fill="url(#pg)" stroke="#5a5a5a" stroke-width="0.7" stroke-linejoin="round"/>
<polygon points="646.4,379.3 642.9,384.3 637.2,382.9 635.1,378.2 639.1,373.0 644.5,374.8" fill="#3a3f4a"/>
<polygon points="645.7,378.5 642.2,383.5 636.5,382.1 634.4,377.4 638.4,372.2 643.8,374.0" fill="url(#pg)" stroke="#5a5a5a" stroke-width="0.7" stroke-linejoin="round"/>
<polygon points="497.1,392.4 490.5,393.1 487.0,387.7 492.8,381.8 498.5,384.8" fill="#3a3f4a"/>
<polygon points="496.4,391.6 489.8,392.3 486.3,386.9 492.1,381.0 497.8,384.0" fill="url(#pg)" stroke="#5a5a5a" stroke-width="0.7" stroke-linejoin="round"/>
<polygon points="518.6,388.5 512.3,388.9 510.0,385.4 512.9,381.3 517.6,380.2 521.0,385.2" fill="#3a3f4a"/>
<polygon points="517.9,387.7 511.6,388.1 509.3,384.6 512.2,380.5 516.9,379.4 520.3,384.4" fill="url(#pg)" stroke="#5a5a5a" stroke-width="0.7" stroke-linejoin="round"/>
<polygon points="544.5,395.1 536.7,393.7 534.3,386.2 541.1,382.2 547.8,388.2" fill="#3a3f4a"/>
<polygon points="543.8,394.3 536.0,392.9 533.6,385.4 540.4,381.4 547.1,387.4" fill="url(#pg)" stroke="#5a5a5a" stroke-width="0.7" stroke-linejoin="round"/>
<polygon points="562.1,383.1 559.6,385.5 556.6,384.4 557.1,380.5 560.4,380.1" fill="#3a3f4a"/>
<polygon points="561.4,382.3 558.9,384.7 555.9,383.6 556.4,379.7 559.7,379.3" fill="url(#pg)" stroke="#5a5a5a" stroke-width="0.7" stroke-linejoin="round"/>
<polygon points="508.1,404.0 505.0,405.0 503.3,402.8 504.0,400.4 507.0,399.5 508.7,401.6" fill="#3a3f4a"/>
<polygon points="507.4,403.2 504.3,404.2 502.6,402.0 503.3,399.6 506.3,398.7 508.0,400.8" fill="url(#pg)" stroke="#5a5a5a" stroke-width="0.7" stroke-linejoin="round"/>
<polygon points="530.9,403.6 528.3,404.1 526.2,402.1 527.0,399.4 529.6,399.0 531.9,400.7" fill="#3a3f4a"/>
<polygon points="530.2,402.8 527.6,403.3 525.5,401.3 526.3,398.6 528.9,398.2 531.2,399.9" fill="url(#pg)" stroke="#5a5a5a" stroke-width="0.7" stroke-linejoin="round"/>
<polygon points="529.7,416.7 526.1,420.5 519.5,418.7 520.5,411.9 526.3,410.9" fill="#3a3f4a"/>
<polygon points="529.0,415.9 525.4,419.7 518.8,417.9 519.8,411.1 525.6,410.1" fill="url(#pg)" stroke="#5a5a5a" stroke-width="0.7" stroke-linejoin="round"/>
<polygon points="563.8,409.6 560.3,412.7 556.6,410.9 556.0,406.0 560.0,404.1 563.5,406.1" fill="#3a3f4a"/>
<polygon points="563.1,408.8 559.6,411.9 555.9,410.1 555.3,405.2 559.3,403.3 562.8,405.3" fill="url(#pg)" stroke="#5a5a5a" stroke-width="0.7" stroke-linejoin="round"/>
<polygon points="492.4,428.3 487.6,429.3 483.9,426.6 484.8,422.4 489.7,421.1 493.1,424.3" fill="#3a3f4a"/>
<polygon points="491.7,427.5 486.9,428.5 483.2,425.8 484.1,421.6 489.0,420.3 492.4,423.5" fill="url(#pg)" stroke="#5a5a5a" stroke-width="0.7" stroke-linejoin="round"/>
<polygon points="513.1,439.3 507.2,439.4 503.6,434.5 505.5,429.3 512.5,427.3 517.6,433.1" fill="#3a3f4a"/>
<polygon points="512.4,438.5 506.5,438.6 502.9,433.7 504.8,428.5 511.8,426.5 516.9,432.3" fill="url(#pg)" stroke="#5a5a5a" stroke-width="0.7" stroke-linejoin="round"/>
<polygon points="531.9,435.8 529.7,438.2 526.4,437.2 526.1,434.9 528.0,432.7 530.8,433.3" fill="#3a3f4a"/>
<polygon points="531.2,435.0 529.0,437.4 525.7,436.4 525.4,434.1 527.3,431.9 530.1,432.5" fill="url(#pg)" stroke="#5a5a5a" stroke-width="0.7" stroke-linejoin="round"/>
<polygon points="558.4,446.5 552.8,449.8 547.3,445.3 549.3,439.9 556.0,440.0" fill="#3a3f4a"/>
<polygon points="557.7,445.7 552.1,449.0 546.6,444.5 548.6,439.1 555.3,439.2" fill="url(#pg)" stroke="#5a5a5a" stroke-width="0.7" stroke-linejoin="round"/>
<polygon points="560.3,437.5 557.3,438.1 555.2,436.4 556.1,433.4 558.6,432.6 561.0,434.3" fill="#3a3f4a"/>
<polygon points="559.6,436.7 556.6,437.3 554.5,435.6 555.4,432.6 557.9,431.8 560.3,433.5" fill="url(#pg)" stroke="#5a5a5a" stroke-width="0.7" stroke-linejoin="round"/>
<polygon points="583.1,430.6 576.3,434.0 571.0,429.7 573.9,423.8 581.6,424.2" fill="#3a3f4a"/>
<polygon points="582.4,429.8 575.6,433.2 570.3,428.9 573.2,423.0 580.9,423.4" fill="url(#pg)" stroke="#5a5a5a" stroke-width="0.7" stroke-linejoin="round"/>
<polygon points="594.6,395.5 587.0,397.6 582.5,392.4 585.2,386.8 591.3,385.4 597.0,390.4" fill="#3a3f4a"/>
<polygon points="593.9,394.7 586.3,396.8 581.8,391.6 584.5,386.0 590.6,384.6 596.3,389.6" fill="url(#pg)" stroke="#5a5a5a" stroke-width="0.7" stroke-linejoin="round"/>
<polygon points="599.3,402.4 596.2,406.8 591.2,405.3 591.3,399.9 596.3,399.5" fill="#3a3f4a"/>
<polygon points="598.6,401.6 595.5,406.0 590.5,404.5 590.6,399.1 595.6,398.7" fill="url(#pg)" stroke="#5a5a5a" stroke-width="0.7" stroke-linejoin="round"/>
<polygon points="624.1,403.3 619.2,407.7 613.8,407.6 610.3,401.0 613.5,396.5 620.1,396.6" fill="#3a3f4a"/>
<polygon points="623.4,402.5 618.5,406.9 613.1,406.8 609.6,400.2 612.8,395.7 619.4,395.8" fill="url(#pg)" stroke="#5a5a5a" stroke-width="0.7" stroke-linejoin="round"/>
<polygon points="661.2,411.7 656.1,416.9 650.3,413.3 651.9,407.1 658.7,406.6" fill="#3a3f4a"/>
<polygon points="660.5,410.9 655.4,416.1 649.6,412.5 651.2,406.3 658.0,405.8" fill="url(#pg)" stroke="#5a5a5a" stroke-width="0.7" stroke-linejoin="round"/>
<polygon points="607.1,419.5 605.1,420.0 603.2,418.4 604.4,415.7 606.9,415.8 608.2,417.8" fill="#3a3f4a"/>
<polygon points="606.4,418.7 604.4,419.2 602.5,417.6 603.7,414.9 606.2,415.0 607.5,417.0" fill="url(#pg)" stroke="#5a5a5a" stroke-width="0.7" stroke-linejoin="round"/>
<polygon points="628.5,426.6 624.1,427.5 620.0,424.4 620.9,418.9 627.0,417.5 631.0,420.9" fill="#3a3f4a"/>
<polygon points="627.8,425.8 623.4,426.7 619.3,423.6 620.2,418.1 626.3,416.7 630.3,420.1" fill="url(#pg)" stroke="#5a5a5a" stroke-width="0.7" stroke-linejoin="round"/>
<polygon points="621.7,432.3 618.0,436.3 611.2,434.6 609.0,429.3 614.2,426.1 619.2,426.5" fill="#3a3f4a"/>
<polygon points="621.0,431.5 617.3,435.5 610.5,433.8 608.3,428.5 613.5,425.3 618.5,425.7" fill="url(#pg)" stroke="#5a5a5a" stroke-width="0.7" stroke-linejoin="round"/>
<polygon points="602.1,438.6 597.0,442.9 591.9,441.6 590.6,436.8 594.4,432.3 600.9,433.9" fill="#3a3f4a"/>
<polygon points="601.4,437.8 596.3,442.1 591.2,440.8 589.9,436.0 593.7,431.5 600.2,433.1" fill="url(#pg)" stroke="#5a5a5a" stroke-width="0.7" stroke-linejoin="round"/>
<polygon points="614.7,440.8 611.3,442.1 608.7,439.7 610.4,436.5 614.8,437.2" fill="#3a3f4a"/>
<polygon points="614.0,440.0 610.6,441.3 608.0,438.9 609.7,435.7 614.1,436.4" fill="url(#pg)" stroke="#5a5a5a" stroke-width="0.7" stroke-linejoin="round"/>
<polygon points="637.3,437.3 635.2,438.1 632.6,436.7 632.7,433.6 635.3,432.9 637.3,434.0" fill="#3a3f4a"/>
<polygon points="636.6,436.5 634.5,437.3 631.9,435.9 632.0,432.8 634.6,432.1 636.6,433.2" fill="url(#pg)" stroke="#5a5a5a" stroke-width="0.7" stroke-linejoin="round"/>
<polygon points="665.9,445.6 660.8,447.6 656.1,445.5 656.1,440.5 661.4,437.0 666.0,440.1" fill="#3a3f4a"/>
<polygon points="665.2,444.8 660.1,446.8 655.4,444.7 655.4,439.7 660.7,436.2 665.3,439.3" fill="url(#pg)" stroke="#5a5a5a" stroke-width="0.7" stroke-linejoin="round"/>
<polygon points="580.5,449.4 578.2,450.1 575.7,447.5 576.8,445.1 579.9,444.7 581.6,447.0" fill="#3a3f4a"/>
<polygon points="579.8,448.6 577.5,449.3 575.0,446.7 576.1,444.3 579.2,443.9 580.9,446.2" fill="url(#pg)" stroke="#5a5a5a" stroke-width="0.7" stroke-linejoin="round"/>
</g>
<polyline points="476.8,350.6 480.7,345.9 483.9,349.0 487.9,344.3 491.0,347.5 495.0,345.9 495.6,346.0" fill="none" stroke="#F06B22" stroke-width="2.5" stroke-linejoin="round"/><polygon points="502.1,346.7 495.2,349.7 496.1,342.2" fill="#F06B22"/>
<polyline points="512.4,356.2 521.9,354.6 518.7,359.3 525.0,357.8 524.3,361.7 528.2,363.3 529.6,364.1" fill="none" stroke="#F06B22" stroke-width="2.5" stroke-linejoin="round"/><polygon points="535.3,367.2 527.8,367.4 531.4,360.7" fill="#F06B22"/>
<polyline points="554.3,360.9 555.1,350.6 558.3,355.4 559.9,349.0 563.0,350.6 564.6,345.9 565.2,345.6" fill="none" stroke="#F06B22" stroke-width="2.5" stroke-linejoin="round"/><polygon points="570.9,342.4 567.1,348.9 563.4,342.2" fill="#F06B22"/>
<polyline points="553.7,373.2 564.0,374.0 560.0,377.2 565.6,380.3 563.2,383.5 567.2,385.9 568.0,387.0" fill="none" stroke="#F06B22" stroke-width="2.5" stroke-linejoin="round"/><polygon points="571.9,392.2 565.0,389.3 571.1,384.7" fill="#F06B22"/>
<polyline points="584.5,353.0 594.0,349.0 590.8,354.6 597.2,353.0 597.2,357.8 601.9,357.0 603.3,357.8" fill="none" stroke="#F06B22" stroke-width="2.5" stroke-linejoin="round"/><polygon points="609.0,360.9 601.5,361.1 605.1,354.4" fill="#F06B22"/>
<polyline points="620.9,364.9 621.7,355.4 625.6,358.5 627.2,352.2 630.4,354.6 632.0,350.6 632.9,350.3" fill="none" stroke="#F06B22" stroke-width="2.5" stroke-linejoin="round"/><polygon points="639.1,348.3 634.1,353.9 631.7,346.7" fill="#F06B22"/>
<polyline points="652.5,347.5 654.1,337.2 657.3,341.1 659.7,334.8 662.8,337.2 664.5,334.0 664.9,333.8" fill="none" stroke="#F06B22" stroke-width="2.5" stroke-linejoin="round"/><polygon points="670.7,330.9 666.6,337.2 663.2,330.4" fill="#F06B22"/>
<polyline points="476.0,390.3 480.7,386.3 483.9,389.5 487.1,386.3 490.2,388.7 490.5,388.8" fill="none" stroke="#F06B22" stroke-width="2.5" stroke-linejoin="round"/><polygon points="496.6,391.1 489.2,392.4 491.8,385.3" fill="#F06B22"/>
<polyline points="503.7,397.4 510.0,393.4 509.2,396.6 515.6,395.8 515.6,399.0 518.7,398.2 518.3,398.0" fill="none" stroke="#F06B22" stroke-width="2.5" stroke-linejoin="round"/><polygon points="524.3,400.6 516.8,401.5 519.8,394.5" fill="#F06B22"/>
<polyline points="532.2,410.9 536.9,406.1 536.9,410.1 542.5,406.9 543.2,410.9 546.4,409.3 546.3,409.3" fill="none" stroke="#F06B22" stroke-width="2.5" stroke-linejoin="round"/><polygon points="552.7,410.1 545.8,413.1 546.7,405.5" fill="#F06B22"/>
<polyline points="495.0,423.5 500.5,418.0 501.3,421.9 505.3,418.8 506.1,422.7 509.2,421.5 509.9,421.6" fill="none" stroke="#F06B22" stroke-width="2.5" stroke-linejoin="round"/><polygon points="516.3,422.7 509.3,425.4 510.5,417.9" fill="#F06B22"/>
<polyline points="602.0,385.9 606.7,378.7 608.3,383.5 612.3,378.7 613.9,381.9 618.6,379.5 619.2,379.5" fill="none" stroke="#F06B22" stroke-width="2.5" stroke-linejoin="round"/><polygon points="625.7,379.5 619.2,383.3 619.2,375.7" fill="#F06B22"/>
<polyline points="644.6,385.5 651.0,382.4 652.5,387.1 657.3,385.5 658.9,390.3 662.0,389.5 664.0,391.0" fill="none" stroke="#F06B22" stroke-width="2.5" stroke-linejoin="round"/><polygon points="669.1,395.0 661.6,394.0 666.3,388.0" fill="#F06B22"/>
<polyline points="625.6,394.2 634.3,395.8 629.6,399.8 635.9,402.2 633.5,406.1 636.7,408.5 637.2,409.7" fill="none" stroke="#F06B22" stroke-width="2.5" stroke-linejoin="round"/><polygon points="639.9,415.6 633.8,411.2 640.7,408.1" fill="#F06B22"/>
<polyline points="598.0,409.6 605.2,408.8 603.6,412.8 609.1,413.5 608.3,416.7 611.5,418.3 609.5,416.8" fill="none" stroke="#F06B22" stroke-width="2.5" stroke-linejoin="round"/><polygon points="614.7,420.7 607.2,419.8 611.8,413.8" fill="#F06B22"/>
<polyline points="571.9,414.3 582.2,415.1 578.3,418.3 584.6,420.7 582.2,424.6 586.2,426.2 586.4,426.4" fill="none" stroke="#F06B22" stroke-width="2.5" stroke-linejoin="round"/><polygon points="590.9,431.0 583.6,429.0 589.1,423.7" fill="#F06B22"/>
<polyline points="641.5,426.7 648.6,425.9 647.0,429.8 652.5,430.6 651.7,433.8 654.9,435.4 653.8,434.5" fill="none" stroke="#F06B22" stroke-width="2.5" stroke-linejoin="round"/><polygon points="658.9,438.5 651.4,437.5 656.1,431.5" fill="#F06B22"/>
<text x="320.20" y="481.30" font-size="14" fill="#000" stroke="#000" stroke-width="0.3" text-anchor="start" font-family="Liberation Sans, sans-serif" font-weight="bold" textLength="56" lengthAdjust="spacingAndGlyphs" >SiC NWs</text>
<text x="415.00" y="481.30" font-size="14" fill="#000" stroke="#000" stroke-width="0.3" text-anchor="start" font-family="Liberation Sans, sans-serif" font-weight="bold" textLength="49.5" lengthAdjust="spacingAndGlyphs" >SiC MPs</text>
<text x="555.40" y="480.60" font-size="14" fill="#000" stroke="#000" stroke-width="0.3" text-anchor="start" font-family="Liberation Sans, sans-serif" font-weight="bold" textLength="98.5" lengthAdjust="spacingAndGlyphs" >Conductive path</text>
<path d="M522.6,480.8H543.2" stroke="#F2650F" stroke-width="5.9" stroke-linecap="round"/>
<polyline points="522.3,470.9 525.4,465.7 527.4,469.3 529.5,464.7 531.6,467.8 534.7,466.7 538,467" fill="none" stroke="#F2650F" stroke-width="1.4"/>
<polygon points="536.6,464.4 543.2,467.3 537.2,470.6" fill="#F2650F"/>
<path d="M294.5,464.4 C294.8,464.8 295.7,465.9 296.1,467.0 C296.5,468.1 296.5,469.8 297.0,470.8 C297.5,471.8 298.0,472.4 298.9,473.0 C299.8,473.6 301.6,474.3 302.1,474.6" fill="none" stroke="#5a5a5a" stroke-width="0.9" stroke-linecap="round"/>
<path d="M291.3,473.3 C291.8,473.6 293.2,474.6 294.5,474.9 C295.8,475.2 297.6,475.2 298.9,475.2 C300.2,475.1 300.9,475.0 302.1,474.6 C303.3,474.2 305.3,473.3 305.9,473.0" fill="none" stroke="#5a5a5a" stroke-width="0.9" stroke-linecap="round"/>
<path d="M307.2,466.0 C307.1,466.4 306.5,467.4 306.5,468.2 C306.5,469.0 306.9,470.1 307.2,470.8 C307.5,471.6 308.0,472.0 308.1,472.7 C308.2,473.4 308.1,474.4 307.8,475.2 C307.5,476.0 306.7,477.3 306.5,477.7" fill="none" stroke="#5a5a5a" stroke-width="0.9" stroke-linecap="round"/>
<path d="M302.1,474.6 C302.8,475.1 305.2,477.2 306.5,477.7 C307.8,478.2 308.7,477.5 309.7,477.7 C310.7,477.9 312.0,478.5 312.5,478.7" fill="none" stroke="#5a5a5a" stroke-width="0.9" stroke-linecap="round"/>
<path d="M290.7,480.3 C291.3,480.3 293.3,480.1 294.5,480.3 C295.7,480.5 296.5,481.6 297.7,481.5 C298.9,481.4 300.2,480.4 301.5,479.9 C302.8,479.4 304.5,478.8 305.3,478.4 C306.1,478.0 306.3,477.8 306.5,477.7" fill="none" stroke="#5a5a5a" stroke-width="0.9" stroke-linecap="round"/>
<path d="M290.4,486.0 C290.9,485.7 292.0,484.6 293.2,484.0 C294.4,483.4 296.5,482.9 297.7,482.2 C298.9,481.5 299.6,480.7 300.2,479.6 C300.8,478.5 301.3,476.4 301.5,475.8" fill="none" stroke="#5a5a5a" stroke-width="0.9" stroke-linecap="round"/>
<path d="M306.5,477.7 C306.2,478.2 305.0,479.8 304.6,480.9 C304.2,481.9 304.1,482.9 304.0,484.0 C303.9,485.1 304.2,486.7 304.3,487.2" fill="none" stroke="#5a5a5a" stroke-width="0.9" stroke-linecap="round"/>
<path d="M306.5,477.7 C306.8,478.1 308.1,479.9 308.4,480.3" fill="none" stroke="#5a5a5a" stroke-width="0.9" stroke-linecap="round"/>
<polygon points="400.9,468.6 407.2,474 404.1,482.9 395.8,484.1 393.9,478.4 395.2,474" fill="#4a4a4a"/>
<polygon points="400.2,467.9 406.5,473.3 403.4,482.2 395.1,483.4 393.2,477.7 394.5,473.3" fill="url(#pg)"/>
</svg></body></html>
